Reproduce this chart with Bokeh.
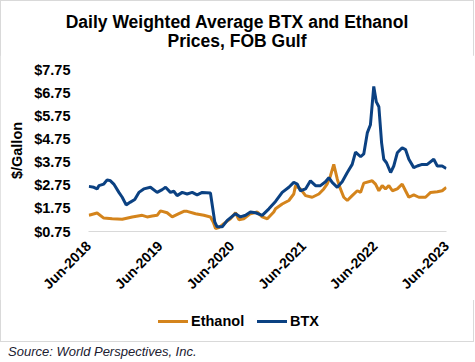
import pandas as pd
from bokeh.plotting import figure
from bokeh.layouts import column
from bokeh.models import (ColumnDataSource, FixedTicker, NumeralTickFormatter,
                          Range1d, Div)
from bokeh.embed import file_html
from bokeh.resources import INLINE

# ---- data ----
btx_dates = ["2018-06-03", "2018-06-28", "2018-07-15", "2018-07-24", "2018-08-18", "2018-09-04",
             "2018-09-21", "2018-10-08", "2018-11-03", "2018-11-20", "2018-12-10", "2019-01-01",
             "2019-01-23", "2019-02-13", "2019-03-10", "2019-04-13", "2019-05-17", "2019-06-12",
             "2019-06-29", "2019-07-24", "2019-08-10", "2019-08-27", "2019-09-22", "2019-10-17",
             "2019-11-12", "2019-12-07", "2020-01-02", "2020-02-13", "2020-02-25", "2020-03-06",
             "2020-03-18", "2020-04-13", "2020-05-09", "2020-06-20", "2020-07-15", "2020-08-10",
             "2020-09-04", "2020-09-30", "2020-11-03", "2020-12-07", "2021-01-10", "2021-02-13",
             "2021-03-19", "2021-04-13", "2021-05-01", "2021-05-17", "2021-06-12", "2021-07-07",
             "2021-08-02", "2021-08-27", "2021-09-22", "2021-10-09", "2021-10-26", "2021-11-21",
             "2021-12-16", "2022-01-11", "2022-02-05", "2022-02-22", "2022-03-20", "2022-04-05",
             "2022-04-23", "2022-05-09", "2022-05-26", "2022-06-08", "2022-06-21", "2022-07-05",
             "2022-07-16", "2022-07-30", "2022-08-20", "2022-09-05", "2022-09-23", "2022-10-18",
             "2022-11-04", "2022-11-21", "2022-12-16", "2023-01-03", "2023-01-28", "2023-02-23",
             "2023-03-28", "2023-04-15", "2023-05-10", "2023-05-31"]
btx_values = [2.70, 2.66, 2.59, 2.73, 2.80, 2.98,
              2.94, 2.80, 2.44, 2.23, 1.90, 2.02,
              2.13, 2.44, 2.59, 2.66, 2.44, 2.56,
              2.66, 2.44, 2.49, 2.30, 2.44, 2.37,
              2.44, 2.33, 2.44, 2.41, 1.73, 1.16,
              0.95, 0.95, 1.23, 1.52, 1.38, 1.45,
              1.59, 1.56, 1.45, 1.73, 2.05, 2.44,
              2.66, 2.87, 2.80, 2.51, 2.59, 2.94,
              2.73, 2.73, 2.90, 3.08, 2.87, 2.66,
              2.90, 3.30, 3.65, 4.18, 3.98, 4.10,
              5.01, 5.36, 7.02, 6.35, 6.14, 4.58,
              3.87, 3.72, 3.30, 3.58, 4.15, 4.37,
              4.29, 3.87, 3.51, 3.58, 3.65, 3.65,
              3.87, 3.58, 3.58, 3.47]

eth_dates = ["2018-06-03", "2018-07-15", "2018-08-18", "2018-09-30", "2018-11-20", "2019-01-10",
             "2019-03-02", "2019-03-27", "2019-04-22", "2019-05-17", "2019-06-03", "2019-07-07",
             "2019-08-02", "2019-09-05", "2019-09-30", "2019-10-17", "2019-11-29", "2020-01-10",
             "2020-02-13", "2020-02-27", "2020-03-10", "2020-03-27", "2020-04-21", "2020-05-25",
             "2020-06-20", "2020-07-07", "2020-08-01", "2020-09-04", "2020-10-09", "2020-11-03",
             "2020-11-29", "2021-01-01", "2021-01-10", "2021-02-13", "2021-03-19", "2021-04-13",
             "2021-04-22", "2021-05-17", "2021-06-12", "2021-07-16", "2021-08-19", "2021-09-13",
             "2021-09-30", "2021-10-17", "2021-11-03", "2021-11-21", "2021-12-07", "2021-12-24",
             "2022-01-11", "2022-02-05", "2022-03-03", "2022-03-20", "2022-04-05", "2022-05-18",
             "2022-06-04", "2022-06-21", "2022-07-08", "2022-07-25", "2022-08-11", "2022-08-29",
             "2022-09-23", "2022-10-18", "2022-11-04", "2022-11-21", "2022-12-16", "2023-01-11",
             "2023-02-14", "2023-03-12", "2023-04-15", "2023-05-10", "2023-05-31"]
eth_values = [1.45, 1.55, 1.33, 1.30, 1.28, 1.38,
              1.45, 1.38, 1.42, 1.45, 1.64, 1.56,
              1.38, 1.52, 1.62, 1.62, 1.52, 1.45,
              1.38, 1.16, 0.88, 0.92, 1.09, 1.30,
              1.56, 1.26, 1.30, 1.52, 1.59, 1.38,
              1.30, 1.59, 1.73, 1.94, 2.09, 2.37,
              2.73, 2.59, 2.30, 2.23, 2.37, 2.59,
              2.80, 3.15, 3.65, 3.01, 2.59, 2.23,
              2.09, 2.30, 2.51, 2.44, 2.84, 2.94,
              2.80, 2.51, 2.73, 2.59, 2.73, 2.51,
              2.59, 2.80, 2.51, 2.23, 2.33, 2.23,
              2.23, 2.44, 2.47, 2.51, 2.66]

tick_dates = ["2018-06-01", "2019-06-01", "2020-06-01", "2021-06-01", "2022-06-01", "2023-06-01"]
tick_labels = ["Jun-2018", "Jun-2019", "Jun-2020", "Jun-2021", "Jun-2022", "Jun-2023"]
y_ticks = [0.75, 1.75, 2.75, 3.75, 4.75, 5.75, 6.75, 7.75]

series_names = ["Ethanol", "BTX"]
title_lines = ["Daily Weighted Average BTX and Ethanol", "Prices, FOB Gulf"]
source_note = "Source: World Perspectives, Inc."

ETH_COLOR = "#D4841C"
BTX_COLOR = "#0B4182"
FONT = "Liberation Sans"
W = 474

# ---- title (HTML text above the figure) ----
title_html = (f'<div style="position:relative;width:{W}px;height:55px">'
              f'<div style="position:absolute;left:0;top:13px;width:{W}px;text-align:center;'
              f'font-family:{FONT};font-weight:bold;font-size:17.5px;line-height:18.5px;color:black">'
              f'{title_lines[0]}<br>{title_lines[1]}</div></div>')
title_div = Div(text=title_html, width=W, height=55, margin=0)

# ---- figure ----
def to_ms(dates):
    return [pd.Timestamp(d).value / 1e6 for d in dates]

tick_ms = to_ms(tick_dates)
btx_src = ColumnDataSource(dict(x=to_ms(btx_dates), y=btx_values))
eth_src = ColumnDataSource(dict(x=to_ms(eth_dates), y=eth_values))

fig = figure(width=W, height=245, output_backend="svg", toolbar_location=None,
             x_range=Range1d(tick_ms[0], tick_ms[-1]), y_range=Range1d(0.75, 7.75),
             min_border_left=88, min_border_right=28, min_border_top=14, min_border_bottom=67,
             margin=0)
fig.title.text = ""
fig.outline_line_color = None
fig.xgrid.grid_line_color = None
fig.ygrid.grid_line_color = None
fig.background_fill_color = "white"
fig.border_fill_color = "white"

fig.line("x", "y", source=eth_src, line_color=ETH_COLOR, line_width=3)
fig.line("x", "y", source=btx_src, line_color=BTX_COLOR, line_width=3)

xa = fig.xaxis[0]
xa.ticker = FixedTicker(ticks=tick_ms)
xa.major_label_overrides = {t: l for t, l in zip(tick_ms, tick_labels)}
xa.major_label_orientation = 0.785398
xa.major_label_text_font = FONT
xa.major_label_text_font_style = "bold"
xa.major_label_text_font_size = "14px"
xa.major_label_text_color = "black"
xa.major_label_standoff = 6
xa.axis_line_color = "#D9D9D9"
xa.axis_line_width = 1
xa.major_tick_line_color = None
xa.minor_tick_line_color = None

ya = fig.yaxis[0]
ya.ticker = FixedTicker(ticks=y_ticks)
ya.formatter = NumeralTickFormatter(format="$0.00")
ya.major_label_text_font = FONT
ya.major_label_text_font_style = "bold"
ya.major_label_text_font_size = "14.5px"
ya.major_label_text_color = "black"
ya.major_label_standoff = 12
ya.axis_line_color = None
ya.major_tick_line_color = None
ya.minor_tick_line_color = None
ya.axis_label = "$/Gallon"
ya.axis_label_text_font = FONT
ya.axis_label_text_font_style = "bold"
ya.axis_label_text_font_size = "14.5px"
ya.axis_label_text_color = "black"
ya.axis_label_standoff = 6

# ---- legend (HTML, below the figure) ----
def swatch(left, color):
    return (f'<div style="position:absolute;left:{left}px;top:20px;width:30px;height:3px;'
            f'background:{color}"></div>')

def label(left, text):
    return (f'<div style="position:absolute;left:{left}px;top:11px;line-height:20px;'
            f'font-family:{FONT};font-weight:bold;font-size:14.5px;color:black">{text}</div>')

legend_html = (f'<div style="position:relative;width:{W}px;height:42px">'
               + swatch(158, ETH_COLOR) + label(191, series_names[0])
               + swatch(257, BTX_COLOR) + label(290, series_names[1])
               + '</div>')
legend_div = Div(text=legend_html, width=W, height=42, margin=0)

chart = column(title_div, fig, legend_div, spacing=0, margin=0,
               styles={"outline": "1px solid #D9D9D9", "outline-offset": "-1px"})

source_html = (f'<div style="position:relative;width:{W}px;height:18px">'
               f'<div style="position:absolute;left:8px;top:3px;line-height:14px;font-family:{FONT};'
               f'font-style:italic;font-size:13px;color:#202030">{source_note}</div></div>')
source_div = Div(text=source_html, width=W, height=18, margin=0)

p = column(chart, source_div, spacing=0, margin=0)

open("out.html", "w").write(file_html(p, INLINE))
